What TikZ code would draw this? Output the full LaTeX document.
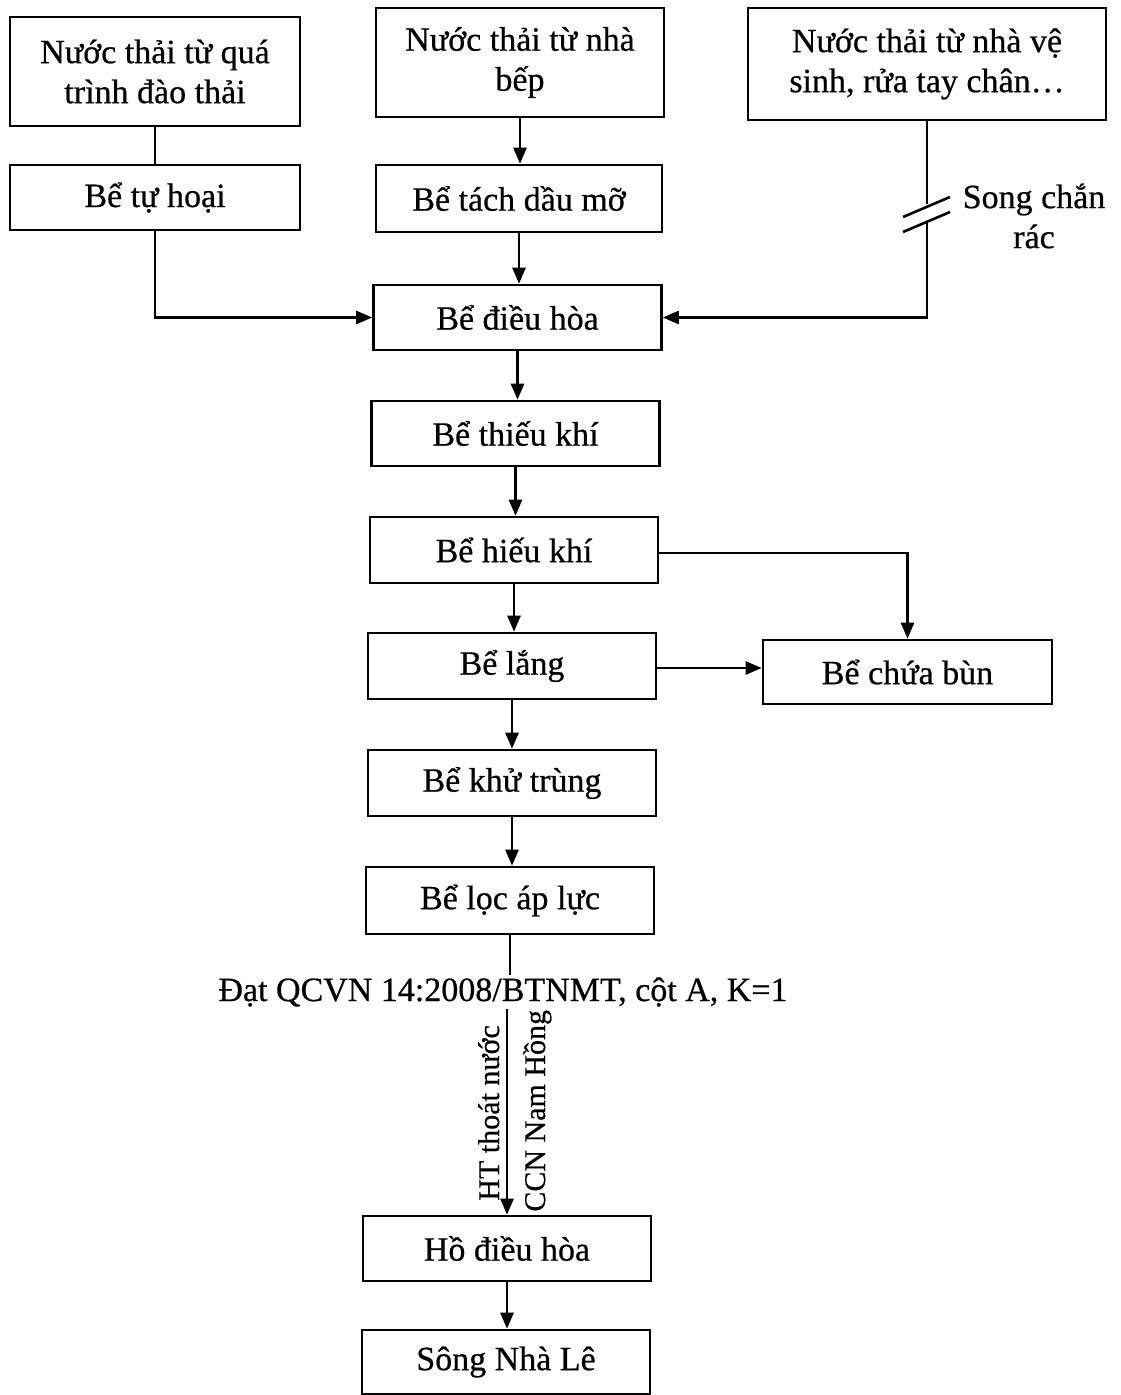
\documentclass[tikz,border=0pt]{standalone}
\usepackage{fontspec}
\setmainfont[FakeBold=0.6]{Liberation Serif}
\usetikzlibrary{arrows.meta,positioning}

\begin{document}
\begin{tikzpicture}[x=0.5pt,y=-0.5pt,
    box/.style={draw, line width=1.3pt, minimum width=144pt, minimum height=32.5pt,
        align=center, inner sep=2pt, font=\fontsize{17}{20}\selectfont},
    link/.style={line width=1.3pt},
    flow/.style={link, -{Triangle[length=8pt,width=6.5pt]}},
    lbl/.style={inner sep=0pt, font=\fontsize{15}{18}\selectfont}]
    % Page frame
    \useasboundingbox (0,0) rectangle (1120,1395);

    % Sources of waste water
    \node[box, minimum width=145pt, minimum height=54.5pt] (daothai) at (155,71.5) {Nước thải từ quá\\trình đào thải};
    \node[box, minimum height=54.5pt] (nhabep) at (520,62.5) {Nước thải từ nhà\\bếp};
    \node[box, minimum width=179pt, minimum height=56pt] (vesinh) at (927,64) {Nước thải từ nhà vệ\\sinh, rửa tay chân…};

    % Treatment tanks
    \node[box, minimum width=145pt] (tuhoai) at (155,197.5) {Bể tự hoại};
    \node[box, minimum width=143pt, minimum height=33.5pt] (tachdau) at (519,198.5) {Bể tách dầu mỡ};
    \node[box] (dieuhoa) at (517.5,317.5) {Bể điều hòa};
    \node[box] (thieukhi) at (515.5,433.5) {Bể thiếu khí};
    \node[box, minimum height=33pt] (hieukhi) at (514,550) {Bể hiếu khí};
    \node[box, minimum height=33pt] (lang) at (512,666) {Bể lắng};
    \node[box, minimum width=144.5pt, minimum height=32pt] (chuabun) at (907.5,672) {Bể chứa bùn};
    \node[box, minimum height=33pt] (khutrung) at (512,783) {Bể khử trùng};
    \node[box, minimum height=33.5pt] (loc) at (510,900.5) {Bể lọc áp lực};
    \node[font=\fontsize{17}{20}\selectfont, inner sep=1pt] (qcvn) at (503,992) {Đạt QCVN 14:2008/BTNMT, cột A, K=1};
    \node[box] (hodh) at (507,1248.5) {Hồ điều hòa};
    \node[box, minimum height=32pt] (song) at (506,1362) {Sông Nhà Lê};

    % Screen on the toilet line
    \coordinate (gapA) at (vesinh.south |- 0,204);
    \coordinate (gapB) at (vesinh.south |- 0,223);
    \node[align=center, font=\fontsize{17}{20}\selectfont, inner sep=0pt] (songchan) at (1034,216) {Song chắn\\rác};
    \draw[link] (903,217) -- (950,197);
    \draw[link] (903,232) -- (950,212);

    % Connectors
    \draw[link] (daothai) -- (tuhoai);
    \draw[flow] (nhabep.south) -- (nhabep.south |- tachdau.north);
    \draw[link] (vesinh.south) -- (gapA);
    \draw[flow] (tuhoai.south) |- (dieuhoa.west);
    \draw[flow] (tachdau.south) -- (tachdau.south |- dieuhoa.north);
    \draw[flow] (gapB) |- (dieuhoa.east);
    \draw[flow] (dieuhoa.south) -- (dieuhoa.south |- thieukhi.north);
    \draw[flow] (thieukhi.south) -- (thieukhi.south |- hieukhi.north);
    \draw[flow] (hieukhi.south) -- (hieukhi.south |- lang.north);
    \draw[flow] ([yshift=-1.5pt]hieukhi.east) -| (chuabun.north);
    \draw[flow] ([yshift=-1pt]lang.east) -- ([yshift=-1pt]lang.east -| chuabun.west);
    \draw[flow] (lang.south) -- (lang.south |- khutrung.north);
    \draw[flow] (khutrung.south) -- (khutrung.south |- loc.north);
    \draw[link] (loc.south) -- (loc.south |- qcvn.north);
    \draw[flow] (qcvn.south -| hodh.north) -- (hodh.north);
    \draw[flow] (hodh.south) -- (hodh.south |- song.north);

    % Labels along the outfall
    \node[lbl, rotate=90, anchor=base west] (htlbl) at (499,1201) {HT thoát nước};
    \node[lbl, rotate=90, anchor=base west] (ccnlbl) at (545,1212) {CCN Nam Hồng};
\end{tikzpicture}
\end{document}
